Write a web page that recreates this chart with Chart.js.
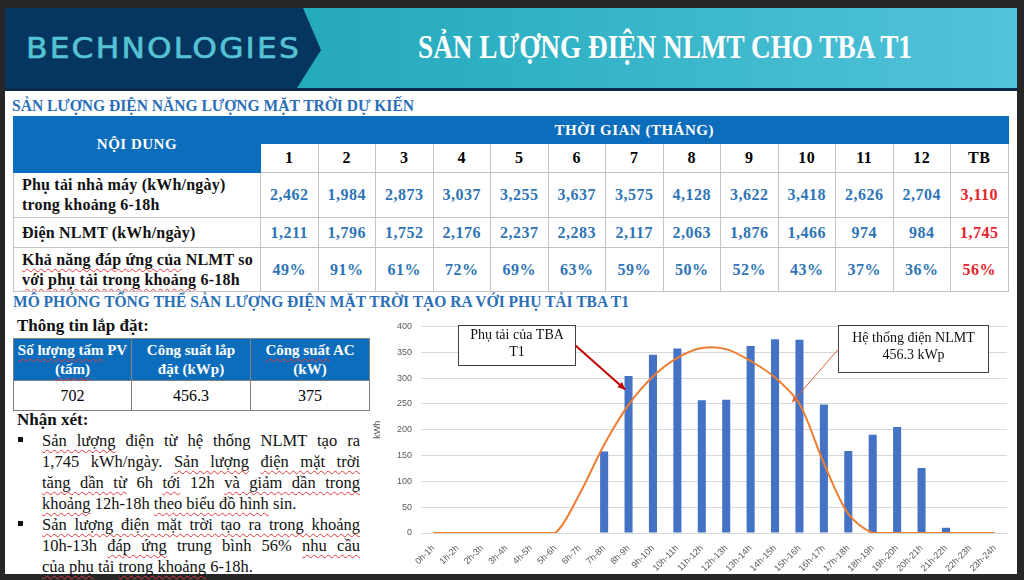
<!DOCTYPE html>
<html>
<head>
<meta charset="utf-8">
<script src="https://cdn.jsdelivr.net/npm/chart.js@4.4.1/dist/chart.umd.min.js"></script>
<style>
  html, body { margin: 0; padding: 0; }
  body { width: 1024px; height: 580px; background: #262626; position: relative; overflow: hidden; font-family: "Liberation Serif", serif; }
  .abs { position: absolute; }
  .slide { left: 5px; top: 8px; width: 1012px; height: 566px; background: #fff; }
  .hdr { left: 5px; top: 8px; width: 1012px; height: 80px; background: linear-gradient(90deg, #18a0aa 0%, #2cafc2 45%, #52c3da 100%); }
  .navy { left: 5px; top: 8px; width: 316px; height: 80px; background: #05365f;
          clip-path: polygon(0 0, 298px 0, 316px 42px, 292px 80px, 0 80px); }
  .hline { left: 5px; top: 88px; width: 1012px; height: 3px; background: #0c2b4b; }
  .logo { left: 26px; top: 31px; font-family: "DejaVu Sans", sans-serif; font-size: 29px; color: #56c3d5; letter-spacing: 2px; white-space: nowrap; transform-origin: 0 0; -webkit-text-stroke: 0.6px #56c3d5; }
  .title { left: 418px; top: 28px; font-weight: bold; font-size: 34px; color: #fff; white-space: nowrap; transform-origin: 0 0; }
  .sec { font-weight: bold; font-size: 16px; color: #2a6fb6; white-space: nowrap; transform-origin: 0 0; }
  .sp { text-decoration: underline wavy #e03a3a; text-decoration-thickness: 1px; text-underline-offset: 3px; text-decoration-skip-ink: none; }

  table { border-collapse: collapse; table-layout: fixed; }
  .t1 { left: 13px; top: 116px; width: 995px; }
  .t1 td { border: 1px solid #c4c4c4; padding: 0; text-align: center; font-weight: bold; font-size: 16px; letter-spacing: 0.5px; white-space: nowrap; }
  .t1 td.blue { background: #0b6dbb; color: #fff; font-size: 15px; border-color: #0b6dbb; }
  .t1 td.lab { text-align: left; padding-left: 8px; color: #111; line-height: 20px; letter-spacing: 0.2px; overflow: hidden; }
  .t1 td.v { color: #2e74b6; }
  .t1 td.r { color: #e3242b; }

  .t2 { left: 13px; top: 338px; width: 356px; }
  .t2 td { border: 1px solid #7f7f7f; text-align: center; padding: 0; font-size: 16px; }
  .t2 td.blue { background: #0b6dbb; color: #fff; font-weight: bold; font-size: 15px; line-height: 19px; border-color: #7f7f7f; white-space: nowrap; }

  .lbl { font-weight: bold; font-size: 17px; color: #111; white-space: nowrap; }
  .para { left: 42px; width: 318px; font-size: 16.5px; color: #111; }
  .para div { height: 21px; line-height: 21px; white-space: nowrap; }
  .para div.j { text-align: justify; text-align-last: justify; white-space: normal; }
  .bul { width: 5px; height: 5px; background: #111; }

  .chartBox { left: 372px; top: 312px; width: 642px; height: 262px; }
</style>
</head>
<body>
<div class="abs slide"></div>
<div class="abs hdr"></div>
<div class="abs navy"></div>
<div class="abs hline"></div>
<div class="abs logo" id="logo">BECHNOLOGIES</div>
<div class="abs title" id="title">SẢN LƯỢNG ĐIỆN NLMT CHO TBA T1</div>

<div class="abs sec" id="sec1" style="left:12px;top:97px;">SẢN LƯỢNG ĐIỆN NĂNG LƯỢNG MẶT TRỜI DỰ KIẾN</div>
<table class="abs t1" id="t1"></table>

<div class="abs sec" id="sec2" style="left:13px;top:293px;">MÔ PHỎNG TỔNG THỂ SẢN LƯỢNG ĐIỆN MẶT TRỜI TẠO RA VỚI PHỤ TẢI TBA T1</div>
<div class="abs lbl" style="left:17px;top:316px;">Thông tin lắp đặt:</div>
<table class="abs t2">
  <colgroup><col style="width:118px"><col style="width:119px"><col style="width:119px"></colgroup>
  <tr style="height:42px">
    <td class="blue"><span class="sp">Số lượng tấm</span> PV<br><span class="sp">(tấm)</span></td>
    <td class="blue">Công suất lắp<br>đặt (kWp)</td>
    <td class="blue"><span class="sp">Công suất</span> AC<br>(kW)</td>
  </tr>
  <tr style="height:30px"><td>702</td><td>456.3</td><td>375</td></tr>
</table>
<div class="abs lbl" style="left:17px;top:410px;">Nhận xét:</div>

<div class="abs bul" style="left:18px;top:437px;"></div>
<div class="abs bul" style="left:18px;top:521px;"></div>
<div class="abs para" style="top:430px;">
  <div class="j"><span class="sp">Sản lượng</span> điện từ hệ thống NLMT tạo ra</div>
  <div class="j">1,745 kWh/ngày. <span class="sp">Sản lượng</span> <span class="sp">điện mặt trời</span></div>
  <div class="j"><span class="sp">tăng dần từ</span> 6h <span class="sp">tới</span> 12h <span class="sp">và giảm dần trong</span></div>
  <div><span class="sp">khoảng</span> 12h-18h <span class="sp">theo biểu đồ hình</span> sin.</div>
  <div class="j"><span class="sp">Sản lượng điện mặt trời tạo ra trong khoảng</span></div>
  <div class="j">10h-13h <span class="sp">đáp ứng</span> trung bình 56% <span class="sp">nhu cầu</span></div>
  <div><span class="sp">của phụ</span> tải <span class="sp">trong khoảng</span> 6-18h.</div>
</div>

<div class="abs chartBox"><canvas id="solarChart"></canvas></div>

<script>
// === monthly table ===
var months = ['1', '2', '3', '4', '5', '6', '7', '8', '9', '10', '11', '12'];
var loadPerDay = ['2,462', '1,984', '2,873', '3,037', '3,255', '3,637', '3,575', '4,128', '3,622', '3,418', '2,626', '2,704'];
var solarPerDay = ['1,211', '1,796', '1,752', '2,176', '2,237', '2,283', '2,117', '2,063', '1,876', '1,466', '974', '984'];
var coverage = ['49%', '91%', '61%', '72%', '69%', '63%', '59%', '50%', '52%', '43%', '37%', '36%'];
var avgCol = ['3,110', '1,745', '56%'];

// === hourly chart ===
var hourLabels = ['0h-1h', '1h-2h', '2h-3h', '3h-4h', '4h-5h', '5h-6h', '6h-7h', '7h-8h', '8h-9h', '9h-10h',
  '10h-11h', '11h-12h', '12h-13h', '13h-14h', '14h-15h', '15h-16h', '16h-17h', '17h-18h', '18h-19h',
  '19h-20h', '20h-21h', '21h-22h', '22h-23h', '23h-24h'];
var loadKwh = [0, 0, 0, 0, 0, 0, 0, 158, 304, 345, 357, 257, 258, 362, 375, 374, 249, 159, 190, 205, 126, 10, 0, 0];
var solarKwh = [0, 0, 0, 0, 0, 0, 76, 171, 248, 303, 339, 358, 356, 333, 301, 250, 135, 37, 0, 0, 0, 0, 0, 0];
var yMin = 0, yMax = 400, yStep = 50;

// callout boxes, in axis units (category index, kWh)
var callouts = [
  { lines: ['Phụ tải của TBA', 'T1'], x0: 1.02, x1: 5.81, yTop: 402, yBot: 326, tipX: 7.86, tipY: 278, side: 'right', color: '#c00000', lw: 2 },
  { lines: ['Hệ thống điện NLMT', '456.3 kWp'], x0: 16.58, x1: 22.72, yTop: 402, yBot: 311, tipX: 14.7, tipY: 253, side: 'left', color: '#e0603a', lw: 1 }
];

function buildTable() {
  var html = '<colgroup><col style="width:247px">';
  for (var i = 0; i < 13; i++) html += '<col style="width:57.5px">';
  html += '</colgroup>';
  html += '<tr style="height:27px"><td class="blue" rowspan="2">NỘI DUNG</td><td class="blue" colspan="13">THỜI GIAN (THÁNG)</td></tr>';
  html += '<tr style="height:29px">';
  months.forEach(function(m) { html += '<td>' + m + '</td>'; });
  html += '<td>TB</td></tr>';
  var rows = [
    ['Phụ tải nhà máy (kWh/ngày)<br>trong khoảng 6-18h', loadPerDay, 45],
    ['Điện NLMT (kWh/ngày)', solarPerDay, 30],
    ['<span class="sp">Khả năng đáp ứng của</span> NLMT so<br><span class="sp">với phụ tải trong khoảng</span> 6-18h', coverage, 44]
  ];
  rows.forEach(function(r, k) {
    html += '<tr style="height:' + r[2] + 'px"><td class="lab">' + r[0] + '</td>';
    r[1].forEach(function(v) { html += '<td class="v">' + v + '</td>'; });
    html += '<td class="r">' + avgCol[k] + '</td></tr>';
  });
  document.getElementById('t1').innerHTML = html;
}
buildTable();

function fitWidth(id, w) {
  var el = document.getElementById(id);
  var cur = el.getBoundingClientRect().width;
  el.style.transform = 'scaleX(' + (w / cur) + ')';
}
fitWidth('logo', 275);
fitWidth('title', 494);
fitWidth('sec1', 402);
fitWidth('sec2', 616);

function arrowHead(c, x0, y0, x1, y1, size) {
  var a = Math.atan2(y1 - y0, x1 - x0);
  c.beginPath();
  c.moveTo(x1, y1);
  c.lineTo(x1 - size * Math.cos(a - 0.45), y1 - size * Math.sin(a - 0.45));
  c.lineTo(x1 - size * Math.cos(a + 0.45), y1 - size * Math.sin(a + 0.45));
  c.closePath();
  c.fill();
}

var calloutPlugin = {
  id: 'callouts',
  afterDraw: function(chart) {
    var xs = chart.scales.x, ys = chart.scales.y, c = chart.ctx;
    callouts.forEach(function(o) {
      var l = Math.round(xs.getPixelForValue(o.x0)) + 0.5, r = Math.round(xs.getPixelForValue(o.x1)) + 0.5;
      var t = Math.round(ys.getPixelForValue(o.yTop)) + 0.5, b = Math.round(ys.getPixelForValue(o.yBot)) + 0.5;
      c.save();
      c.fillStyle = '#fff';
      c.fillRect(l, t, r - l, b - t);
      c.strokeStyle = '#404040';
      c.lineWidth = 1;
      c.strokeRect(l, t, r - l, b - t);
      c.fillStyle = '#111';
      c.font = '14px "Liberation Serif", serif';
      c.textAlign = 'center';
      c.textBaseline = 'middle';
      var mid = (t + b) / 2, lh = 17;
      o.lines.forEach(function(s, i) {
        c.fillText(s, (l + r) / 2, mid - 2 + (i - (o.lines.length - 1) / 2) * lh);
      });
      var sx = o.side === 'right' ? r : l, sy = mid;
      var tx = xs.getPixelForValue(o.tipX), ty = ys.getPixelForValue(o.tipY);
      c.strokeStyle = o.color;
      c.fillStyle = o.color;
      c.lineWidth = o.lw;
      c.beginPath();
      c.moveTo(sx, sy);
      c.lineTo(tx, ty);
      c.stroke();
      arrowHead(c, sx, sy, tx, ty, o.lw > 1 ? 8 : 6);
      c.restore();
    });
  }
};

new Chart(document.getElementById('solarChart'), {
  type: 'bar',
  data: {
    labels: hourLabels,
    datasets: [
      {
        type: 'line',
        label: 'Hệ thống điện NLMT',
        data: solarKwh,
        borderColor: '#ed7d31',
        borderWidth: 2,
        pointRadius: 0,
        tension: 0.3,
        order: 1
      },
      {
        label: 'Phụ tải của TBA T1',
        data: loadKwh,
        backgroundColor: '#4472c4',
        barPercentage: 0.33,
        categoryPercentage: 1,
        order: 2
      }
    ]
  },
  options: {
    responsive: true,
    maintainAspectRatio: false,
    animation: false,
    layout: { padding: { top: 11, right: 7, left: 0, bottom: 0 } },
    plugins: { legend: { display: false }, tooltip: { enabled: false } },
    scales: {
      x: {
        offset: true,
        grid: { display: false },
        border: { display: true, color: '#d9d9d9' },
        ticks: { color: '#595959', font: { size: 9, family: 'Liberation Sans' }, maxRotation: 45, minRotation: 45, autoSkip: false, padding: 2 },
        afterFit: function(s) { s.height = 41; }
      },
      y: {
        min: yMin,
        max: yMax,
        grid: { color: '#d9d9d9', drawTicks: false },
        border: { display: false },
        ticks: { stepSize: yStep, color: '#595959', font: { size: 9, family: 'Liberation Sans' }, padding: 9 },
        title: { display: true, text: 'kWh', color: '#595959', font: { size: 9, family: 'Liberation Sans' }, padding: 0 },
        afterFit: function(s) { s.width = 49; }
      }
    }
  },
  plugins: [calloutPlugin]
});
</script>
</body>
</html>
